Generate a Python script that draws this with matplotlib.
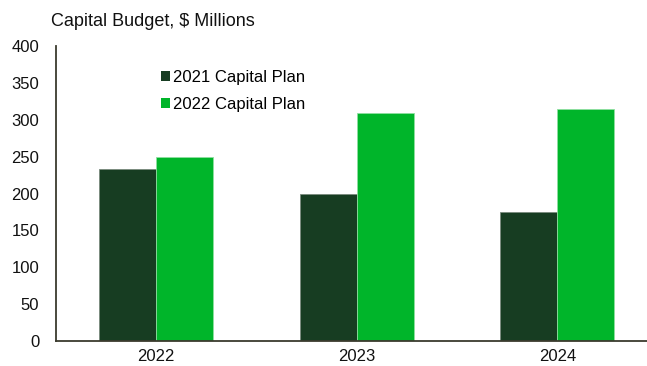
import matplotlib
matplotlib.use("Agg")
import matplotlib.pyplot as plt
import numpy as np

years = ["2022", "2023", "2024"]
plan_2021 = [233, 199, 175]
plan_2022 = [249, 309, 315]
series_labels = ["2021 Capital Plan", "2022 Capital Plan"]
yticks = [0, 50, 100, 150, 200, 250, 300, 350, 400]

dark_green = "#173D22"
bright_green = "#00B52A"

plt.rcParams["font.family"] = ["Liberation Sans", "DejaVu Sans"]

fig = plt.figure(figsize=(6.47, 3.66), dpi=100)
ax = fig.add_axes([56 / 647, 1 - 341 / 366, 1 - 56 / 647, (341 - 46) / 366])

x = np.arange(len(years))
w = 0.285
ax.bar(x - w / 2, plan_2021, width=w, color=dark_green, edgecolor="#7a8a7e",
       linewidth=0.6, label=series_labels[0])
ax.bar(x + w / 2, plan_2022, width=w, color=bright_green, edgecolor="#8fe0a0",
       linewidth=0.6, label=series_labels[1])

ax.set_xlim(-0.5, (647 - 56) / 200.5 - 0.5)
ax.set_ylim(0, 400)
ax.set_yticks(yticks)
ax.set_xticks(x)
ax.set_xticklabels(years)
ax.tick_params(axis="both", length=0, labelsize=12, colors="#111111")
ax.tick_params(axis="y", pad=12)
ax.tick_params(axis="x", pad=6)

for s in ["top", "right"]:
    ax.spines[s].set_visible(False)
for s in ["left", "bottom"]:
    ax.spines[s].set_color("#3b3b2e")
    ax.spines[s].set_linewidth(1.3)

fig.text(51 / 647, 1 - 22 / 366, "Capital Budget, $ Millions", fontsize=13,
         va="center", ha="left", color="#111111")

leg = ax.legend(loc="upper left", bbox_to_anchor=(0.152, 0.97), frameon=False,
                fontsize=12, handlelength=0.55, handleheight=0.55,
                handletextpad=0.2, labelspacing=0.75)
for h in leg.legend_handles:
    h.set_linewidth(0)

fig.savefig("out.png", dpi=100)
